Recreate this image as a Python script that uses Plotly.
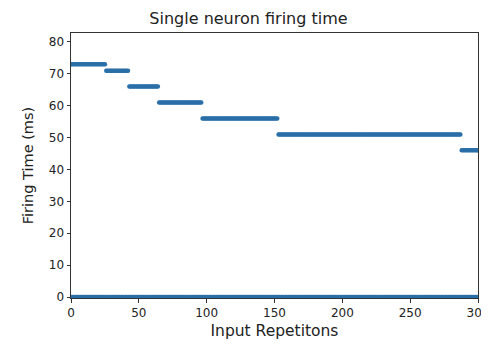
import numpy as np
import plotly.graph_objects as go

# Firing time levels (ms) and the repetition ranges where each holds
level_values = [73, 71, 66, 61, 56, 51, 46]
segment_start = [0, 26, 43, 65, 97, 153, 288]
segment_end = [25, 42, 64, 96, 152, 287, 300]

# Repetitions with zero firing time
zero_start = 0
zero_end = 300
zero_value = 0

x_fire = np.concatenate([np.arange(s, e + 1) for s, e in zip(segment_start, segment_end)])
y_fire = np.concatenate([np.full(e - s + 1, v) for s, e, v in zip(segment_start, segment_end, level_values)])
x_zero = np.arange(zero_start, zero_end + 1)
y_zero = np.full(len(x_zero), zero_value)

x_ticks = [0, 50, 100, 150, 200, 250, 300]
y_ticks = [0, 10, 20, 30, 40, 50, 60, 70, 80]

color = "#2a6fa8"
fig = go.Figure()
fig.add_trace(go.Scatter(x=x_zero, y=y_zero, mode="markers",
                         marker=dict(size=4.5, color=color, line=dict(width=0))))
fig.add_trace(go.Scatter(x=x_fire, y=y_fire, mode="markers",
                         marker=dict(size=4.5, color=color, line=dict(width=0))))

axis_common = dict(showline=True, linecolor="#333", linewidth=1, mirror=True,
                   ticks="outside", ticklen=3.5, tickcolor="#333",
                   showgrid=False, zeroline=False, automargin=False,
                   ticklabeloverflow="allow",
                   tickfont=dict(family="DejaVu Sans", size=12, color="#222"))
# the page body adds an 8px offset, so the figure is sized to fit the window
fig.update_layout(
    width=481, height=337,
    margin=dict(l=63, r=11, t=25, b=47),
    paper_bgcolor="white", plot_bgcolor="white",
    showlegend=False,
    title=dict(text="Single neuron firing time", x=0.5, xanchor="center",
               y=1 - 10 / 337, yanchor="middle", automargin=False,
               font=dict(family="DejaVu Sans", size=16, color="#222")),
    font=dict(family="DejaVu Sans", color="#222"),
)
fig.update_xaxes(range=[0, 300], tickvals=x_ticks, **axis_common,
                 title=dict(text="Input Repetitons", font=dict(size=15.5), standoff=6))
fig.update_yaxes(range=[-0.3, 82.8], tickvals=y_ticks, **axis_common,
                 title=dict(text="Firing Time (ms)", font=dict(size=14.5), standoff=11))
fig.write_html("out.html")
